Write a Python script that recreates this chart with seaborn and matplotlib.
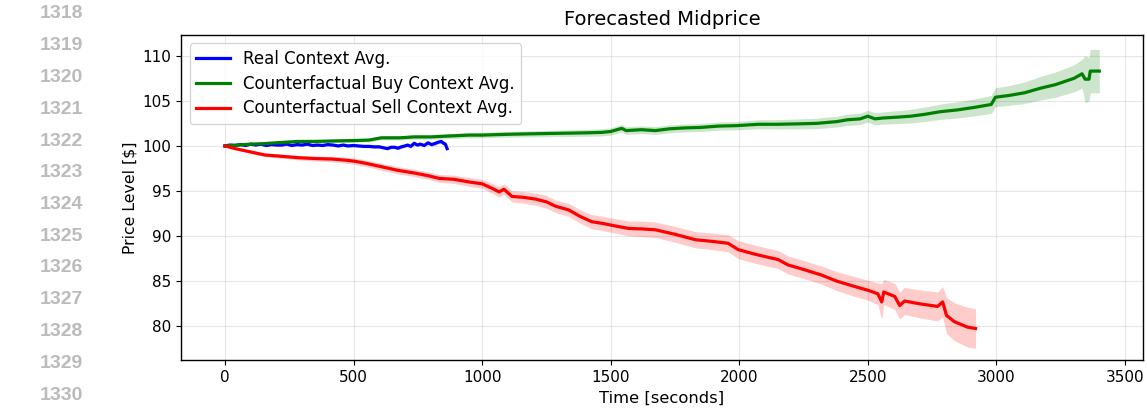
import numpy as np
import pandas as pd
import matplotlib
matplotlib.use("Agg")
import matplotlib.pyplot as plt
import seaborn as sns

# ---------------- data ----------------
real_t = [0, 20, 40, 60, 80, 100, 120, 140, 160, 180, 200, 221, 240, 260, 280, 300,
          320, 340, 360, 380, 400, 420, 440, 460, 478, 500, 520, 540, 560, 580,
          600, 616, 632, 646, 660, 673, 686, 700, 710, 723, 736, 748, 760, 775,
          790, 803, 815, 828, 841, 850, 857, 864]
real_v = [100.0, 100.1, 100.05, 100.15, 100.05, 100.2, 100.1, 100.2, 100.05, 100.15,
          100.1, 100.1, 100.2, 100.05, 100.15, 100.1, 100.2, 100.05, 100.1, 100.05,
          100.15, 100.1, 100.0, 100.1, 100.0, 100.05, 100.0, 99.95, 99.95, 99.9,
          99.9, 99.8, 99.7, 99.85, 99.85, 99.75, 99.9, 100.0, 100.1, 99.95, 100.3,
          100.1, 100.2, 100.05, 100.35, 100.15, 100.25, 100.4, 100.5, 100.3, 100.2,
          99.7]
real_hw = [0.0, 0.04, 0.06, 0.08, 0.09, 0.1, 0.1, 0.11, 0.11, 0.12, 0.12, 0.12, 0.12,
           0.13, 0.13, 0.13, 0.13, 0.13, 0.14, 0.14, 0.14, 0.14, 0.14, 0.14, 0.14,
           0.15, 0.15, 0.15, 0.15, 0.15, 0.15, 0.15, 0.15, 0.16, 0.16, 0.16, 0.16,
           0.16, 0.16, 0.17, 0.17, 0.17, 0.17, 0.17, 0.17, 0.18, 0.18, 0.18, 0.18,
           0.18, 0.18, 0.18]

buy_t = [0, 50, 100, 150, 200, 283, 350, 420, 504, 560, 608, 680, 736, 800, 870,
         950, 1000, 1050, 1116, 1200, 1300, 1400, 1465, 1500, 1543, 1560, 1620,
         1674, 1730, 1790, 1850, 1919, 1990, 2074, 2150, 2230, 2300, 2380, 2420,
         2470, 2500, 2528, 2560, 2620, 2667, 2720, 2783, 2850, 2920, 2980, 2996,
         3050, 3110, 3171, 3230, 3302, 3333, 3345, 3360, 3365, 3400]
buy_v = [100.0, 100.1, 100.2, 100.25, 100.35, 100.5, 100.5, 100.55, 100.6, 100.65,
         100.9, 100.9, 101.0, 101.0, 101.1, 101.2, 101.2, 101.25, 101.3, 101.35,
         101.4, 101.45, 101.5, 101.6, 101.95, 101.7, 101.8, 101.7, 101.9, 102.0,
         102.05, 102.2, 102.25, 102.4, 102.4, 102.45, 102.5, 102.7, 102.9, 103.0,
         103.3, 103.0, 103.1, 103.2, 103.3, 103.5, 103.8, 104.0, 104.3, 104.6,
         105.4, 105.6, 105.9, 106.4, 106.8, 107.5, 108.0, 107.4, 107.4, 108.3, 108.3]
buy_hw = [0.0, 0.05, 0.08, 0.1, 0.12, 0.15, 0.17, 0.18, 0.2, 0.2, 0.22, 0.24, 0.25,
          0.26, 0.28, 0.3, 0.3, 0.31, 0.32, 0.34, 0.36, 0.38, 0.4, 0.4, 0.42, 0.42,
          0.43, 0.43, 0.44, 0.44, 0.45, 0.45, 0.46, 0.5, 0.52, 0.55, 0.58, 0.6, 0.62,
          0.64, 0.65, 0.66, 0.68, 0.72, 0.76, 0.8, 0.85, 0.9, 0.95, 1.0, 1.05, 1.1,
          1.2, 1.3, 1.4, 1.5, 1.6, 2.6, 2.4, 2.4, 2.4]

sell_t = [0, 40, 89, 155, 220, 283, 350, 415, 477, 504, 543, 608, 671, 736, 790,
          833, 890, 950, 1000, 1039, 1066, 1085, 1116, 1160, 1209, 1250, 1287, 1337,
          1380, 1426, 1470, 1504, 1570, 1620, 1674, 1750, 1829, 1900, 1957, 1996,
          2060, 2120, 2151, 2190, 2250, 2318, 2380, 2450, 2500, 2539, 2554, 2562,
          2605, 2624, 2643, 2700, 2771, 2791, 2806, 2837, 2888, 2919]
sell_v = [100.0, 99.7, 99.4, 99.0, 98.85, 98.7, 98.6, 98.55, 98.4, 98.3, 98.1, 97.7,
          97.3, 97.0, 96.7, 96.4, 96.3, 96.0, 95.8, 95.3, 94.9, 95.2, 94.4, 94.3,
          94.1, 93.8, 93.3, 92.9, 92.2, 91.6, 91.4, 91.2, 90.85, 90.8, 90.7, 90.2,
          89.6, 89.4, 89.2, 88.5, 88.0, 87.6, 87.4, 86.8, 86.3, 85.7, 85.0, 84.4,
          84.0, 83.6, 82.7, 83.8, 83.3, 82.3, 82.8, 82.5, 82.2, 82.7, 81.2, 80.5,
          79.9, 79.75]
sell_hw = [0.0, 0.1, 0.15, 0.2, 0.22, 0.25, 0.28, 0.3, 0.33, 0.35, 0.36, 0.38, 0.4,
           0.4, 0.42, 0.44, 0.47, 0.5, 0.5, 0.55, 0.6, 0.6, 0.62, 0.65, 0.68, 0.7,
           0.7, 0.72, 0.75, 0.78, 0.8, 0.8, 0.82, 0.85, 0.86, 0.88, 0.9, 0.92, 0.95,
           1.0, 1.0, 1.0, 1.0, 1.0, 1.0, 1.0, 1.05, 1.1, 1.1, 1.2, 2.0, 1.4, 1.45,
           1.5, 1.5, 1.55, 1.6, 1.7, 2.0, 2.1, 2.2, 2.2]

series_labels = ["Real Context Avg.", "Counterfactual Buy Context Avg.",
                 "Counterfactual Sell Context Avg."]
series_colors = ["blue", "green", "red"]
line_numbers = list(range(1318, 1331))

# ---------------- figure ----------------
fig = plt.figure(figsize=(11.47, 4.12), dpi=100)
ax = fig.add_axes([0.158, 0.126, 0.9965 - 0.158, 0.915 - 0.126])

frames = []
for lab, t, v, hw in zip(series_labels, [real_t, buy_t, sell_t],
                         [real_v, buy_v, sell_v], [real_hw, buy_hw, sell_hw]):
    frames.append(pd.DataFrame({"t": t, "v": v, "hw": hw, "series": lab}))
df = pd.concat(frames, ignore_index=True)

for lab, col in zip(series_labels, series_colors):
    d = df[df.series == lab]
    ax.fill_between(d.t, d.v - d.hw, d.v + d.hw, color=col, alpha=0.2, linewidth=0)

sns.lineplot(data=df, x="t", y="v", hue="series", hue_order=series_labels,
             palette=series_colors, linewidth=2.3, ax=ax, errorbar=None,
             estimator=None, sort=False)

ax.grid(True, color="#b0b0b0", alpha=0.3, linewidth=0.8)
ax.set_axisbelow(True)
ax.set_title("Forecasted Midprice", fontsize=14, pad=7)
ax.set_xlabel("Time [seconds]", fontsize=11.8)
ax.set_ylabel("Price Level [$]", fontsize=11.3)
ax.tick_params(labelsize=11)
ax.set_xticks([0, 500, 1000, 1500, 2000, 2500, 3000, 3500])
ax.set_yticks([80, 85, 90, 95, 100, 105, 110])
ax.set_xlim(-170, 3570)
ax.set_ylim(76.25, 112.3)
for s in ax.spines.values():
    s.set_color("black")
    s.set_linewidth(1.0)

leg = ax.legend(loc="upper left", fontsize=12, frameon=True, title=None,
                labelspacing=0.4)
for line in leg.get_lines():
    line.set_linewidth(2.3)

# page line numbers at the left margin
for i, n in enumerate(line_numbers):
    y_px = 14 + i * 31.75
    fig.text(83 / 1147, 1 - y_px / 412, str(n), ha="right", va="center",
             fontsize=14, fontweight="bold", color="#bbbbbb",
             family="Liberation Sans")

fig.savefig("out.png", dpi=100)
